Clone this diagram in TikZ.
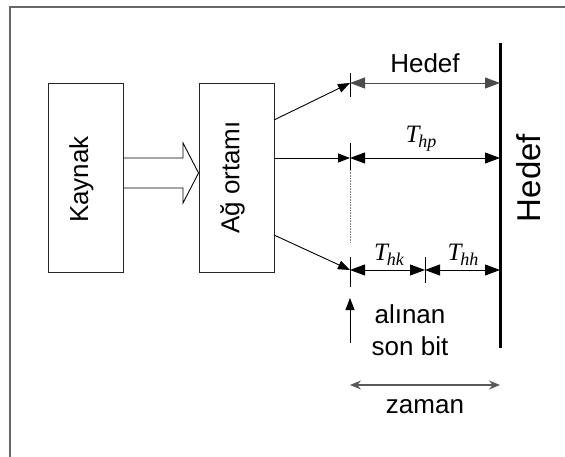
\documentclass[tikz,border=0pt]{standalone}
\usepackage{fontspec}
\setmainfont{Liberation Sans}
\newfontfamily\tms{Liberation Serif}
\usetikzlibrary{arrows.meta}
\tikzset{
  box/.style={draw=black!85, line width=0.9pt, inner sep=0pt, minimum width=75pt, minimum height=189pt},
  lbl/.style={inner sep=0pt, font=\fontsize{26}{31}\selectfont},
  tlbl/.style={inner sep=0pt},
  ln/.style={line width=0.9pt},
  dim/.style={line width=0.9pt, {Triangle[length=15pt,width=11pt]}-{Triangle[length=15pt,width=11pt]}},
  oneh/.style={line width=0.9pt, -{Triangle[length=12pt,width=9pt]}},
  tick/.style={line width=0.8pt}
}
\newcommand{\tlab}[2]{{\tms\itshape\fontsize{25}{25}\selectfont #1\kern-1pt\raisebox{-5pt}{\fontsize{18}{18}\selectfont #2}}}
\begin{document}
\begin{tikzpicture}[x=1pt,y=-1pt]
\useasboundingbox (0,0) rectangle (565,457);
% frame
\draw[gray!80!black, line width=1.5pt] (10,457) -- (10,7) -- (565,7);
% boxes
\node[box] (kay) at (85.5,177.5) {};
\node[lbl, rotate=90] (kayt) at ([xshift=-4pt,yshift=-2pt]kay.center) {Kaynak};
\node[box] (ag) at (236.5,177.5) {};
\node[lbl, rotate=90] (agt) at ([xshift=-4pt]ag.center) {Ağ ortamı};
% hollow arrow
\draw[ln, black] (kay.east |- 0,158) -- (183,158) -- (183,143) -- (ag.west |- 0,173) -- (183,203) -- (183,188) -- (kay.east |- 0,188);
% coordinates
\coordinate (s1) at (274,120);
\coordinate (s2) at (274,158);
\coordinate (s3) at (274,235);
\coordinate (t1) at (350,83);
\coordinate (t2) at (350,158);
\coordinate (t3) at (350,270);
\coordinate (m3) at (425,270);
\coordinate (h1) at (500,83);
\coordinate (h2) at (500,158);
\coordinate (h3) at (500,270);
\coordinate (ltop) at (500,43);
\coordinate (lbot) at (500,348);
% target line
\draw[line width=3pt] (ltop) -- (lbot);
% incoming arrows
\draw[oneh] (s1) -- (t1);
\draw[oneh] (s2) -- (t2);
\draw[oneh] (s3) -- (t3);
% ticks
\draw[tick] (350,73) -- (350,97);
\draw[tick] (350,143) -- (350,170);
\draw[line width=0.6pt, densely dotted, gray] (350,170) -- (350,243);
\draw[tick] (350,257) -- (350,287);
\draw[tick] (425,257) -- (425,283);
% dimension arrows
\draw[dim, draw=gray!60!black] (t1) -- (h1);
\draw[dim] (t2) -- (h2);
\draw[dim] (t3) -- (m3);
\draw[dim] (m3) -- (h3);
% labels
\node[lbl] (hed) at (425,63) {Hedef};
\node[tlbl] (thp) at (421,139) {\tlab{T}{hp}};
\node[tlbl] (thk) at (389,255) {\tlab{T}{hk}};
\node[tlbl] (thh) at (463,255) {\tlab{T}{hh}};
\node[lbl, rotate=90, font=\fontsize{33}{36}\selectfont] (hedr) at (529,178) {Hedef};
% last bit arrow
\coordinate (ua) at (350,343);
\coordinate (ub) at (350,298);
\draw[oneh] (ua) -- (ub);
\node[lbl, align=center, font=\fontsize{26}{32}\selectfont] (son) at (410,330) {alınan\\son bit};
% time arrow
\coordinate (za) at (350,385);
\coordinate (zb) at (500,385);
\draw[line width=1.2pt, gray!70!black, {Stealth[length=11pt,width=9pt]}-{Stealth[length=11pt,width=9pt]}] (za) -- (zb);
\node[lbl] (zam) at (425,407) {zaman};
\end{tikzpicture}
\end{document}
